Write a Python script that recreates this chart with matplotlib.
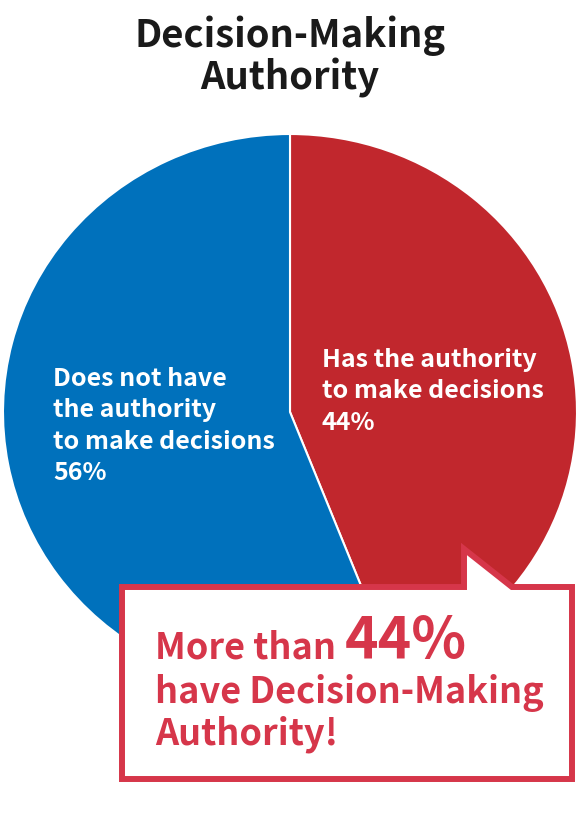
import matplotlib
matplotlib.use("Agg")
import matplotlib.pyplot as plt
from matplotlib.patches import Polygon

plt.rcParams['font.family'] = ['Noto Sans CJK JP', 'DejaVu Sans']

# ---- data ----
title_lines = ["Decision-Making", "Authority"]
categories = ["Has the authority to make decisions", "Does not have the authority to make decisions"]
label_lines = [["Has the authority", "to make decisions"],
               ["Does not have", "the authority", "to make decisions"]]
values = [44, 56]
colors = ["#C1272D", "#0071BC"]
callout_big = "44%"
callout_lines = ["More than", "have Decision-Making", "Authority!"]

W, H = 580, 820
fig = plt.figure(figsize=(W / 100, H / 100), dpi=100)
fig.patch.set_facecolor("white")

# pie axes: bounding box of the pie in pixels
px_left, px_right, px_top, px_bottom = 3, 577, 135, 691
pie_ax = fig.add_axes([px_left / W, 1 - px_bottom / H, (px_right - px_left) / W, (px_bottom - px_top) / H])
pie_ax.pie(values, colors=colors, startangle=90, counterclock=False, radius=1, center=(0, 0),
           wedgeprops=dict(edgecolor="white", linewidth=1.5), frame=False)
pie_ax.set_xlim(-1, 1)
pie_ax.set_ylim(-1, 1)
pie_ax.set_aspect("auto")
pie_ax.axis("off")

# overlay axes in pixel coordinates
ax = fig.add_axes([0, 0, 1, 1])
ax.set_xlim(0, W)
ax.set_ylim(H, 0)
ax.axis("off")
ax.patch.set_alpha(0)

# title
for line, yb in zip(title_lines, [47, 90]):
    ax.text(290, yb, line, ha="center", va="baseline", fontsize=27.5, fontweight="bold", color="#1A1A1A")

# slice labels
lab_fs = 18
xs, ys = 322, 367
for i, line in enumerate(label_lines[0] + [f"{values[0]}%"]):
    ax.text(xs, ys + i * 31.5, line, ha="left", va="baseline", fontsize=lab_fs, fontweight="bold", color="white")
xs, ys = 53, 386
for i, line in enumerate(label_lines[1] + [f"{values[1]}%"]):
    ax.text(xs, ys + i * 31.5, line, ha="left", va="baseline", fontsize=lab_fs, fontweight="bold", color="white")

# callout box
box_col = "#D6364A"
shape = [(122, 588), (464, 588), (464, 550), (512, 588), (572, 588), (572, 780), (122, 780)]
ax.add_patch(Polygon(shape, closed=True, facecolor="white", edgecolor=box_col, linewidth=4.3, joinstyle="miter", zorder=5))

cfs = 26
t1 = ax.text(155, 659, callout_lines[0], ha="left", va="baseline", fontsize=cfs, fontweight="bold", color=box_col, zorder=6)
fig.canvas.draw()
r = fig.canvas.get_renderer()
bb = t1.get_window_extent(renderer=r)
ax.text(bb.x1 + 9, 659, callout_big, ha="left", va="baseline", fontsize=41, fontweight="bold", color=box_col, zorder=6)
ax.text(155, 703, callout_lines[1], ha="left", va="baseline", fontsize=cfs, fontweight="bold", color=box_col, zorder=6)
ax.text(155, 745, callout_lines[2], ha="left", va="baseline", fontsize=cfs, fontweight="bold", color=box_col, zorder=6)

fig.savefig("out.png", dpi=100, facecolor="white")
